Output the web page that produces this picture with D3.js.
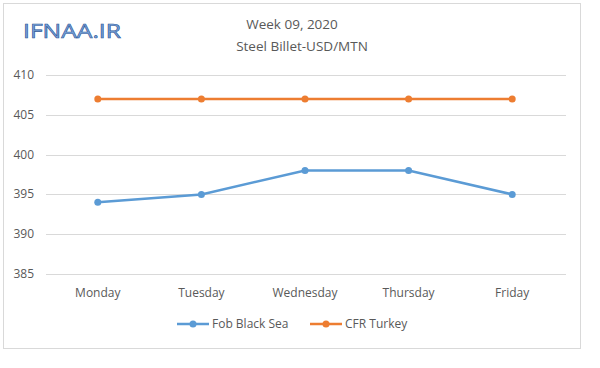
<!DOCTYPE html>
<html><head><meta charset="utf-8">
<script src="https://cdn.jsdelivr.net/npm/d3@7"></script>
<style>body{margin:0;background:#fff}svg text{font-family:"Open Sans","Liberation Sans",sans-serif}</style>
</head><body>
<svg id="c" width="600" height="368"></svg>
<script>
const categories = ["Monday","Tuesday","Wednesday","Thursday","Friday"];
const fobBlackSea = [394,395,398,398,395];
const cfrTurkey = [407,407,407,407,407];
const yTicks = [385,390,395,400,405,410];
const seriesNames = ["Fob Black Sea","CFR Turkey"];
const colors = ["#5b9bd5","#ed7d31"];

const svg = d3.select("#c");
svg.append("rect").attr("x",3.5).attr("y",3.5).attr("width",577).attr("height",345)
  .attr("fill","#fff").attr("stroke","#d9d9d9");

const x = d3.scaleBand().domain(categories).range([46,564]);
const y = d3.scaleLinear().domain([385,410]).range([274,75]);

svg.append("g").selectAll("line").data(yTicks).join("line")
  .attr("x1",46).attr("x2",566).attr("y1",d=>Math.round(y(d))+0.5).attr("y2",d=>Math.round(y(d))+0.5)
  .attr("stroke","#d9d9d9");
svg.append("g").selectAll("text").data(yTicks).join("text")
  .attr("x",34).attr("y",d=>y(d)+4).attr("text-anchor","end").attr("font-size",12).attr("fill","#595959").text(d=>d);
svg.append("g").selectAll("text").data(categories).join("text")
  .attr("x",d=>x(d)+x.bandwidth()/2).attr("y",297).attr("text-anchor","middle").attr("font-size",12).attr("fill","#595959").text(d=>d);

const line = d3.line().x((d,i)=>x(categories[i])+x.bandwidth()/2).y(d=>y(d));
[fobBlackSea,cfrTurkey].forEach((s,k)=>{
  svg.append("path").attr("d",line(s)).attr("fill","none").attr("stroke",colors[k]).attr("stroke-width",2.5);
  svg.append("g").selectAll("circle").data(s).join("circle")
    .attr("cx",(d,i)=>x(categories[i])+x.bandwidth()/2).attr("cy",d=>y(d)).attr("r",3.5).attr("fill",colors[k]);
});

// legend
const lg = [{x:177,name:seriesNames[0]},{x:310,name:seriesNames[1]}];
lg.forEach((l,k)=>{
  svg.append("line").attr("x1",l.x).attr("x2",l.x+32).attr("y1",324).attr("y2",324).attr("stroke",colors[k]).attr("stroke-width",2.5);
  svg.append("circle").attr("cx",l.x+16).attr("cy",324).attr("r",3.5).attr("fill",colors[k]);
  svg.append("text").attr("x",l.x+35).attr("y",328).attr("font-size",12).attr("fill","#595959").text(l.name);
});

svg.append("text").attr("x",292).attr("y",29).attr("text-anchor","middle").attr("font-size",13.5).attr("fill","#595959").text("Week 09, 2020");
svg.append("text").attr("x",302).attr("y",51).attr("text-anchor","middle").attr("font-size",13.5).attr("fill","#595959").text("Steel Billet-USD/MTN");
svg.append("text").attr("x",23).attr("y",38).attr("font-size",20)
  .attr("textLength",98).attr("lengthAdjust","spacingAndGlyphs")
  .attr("fill","#7aa7dc").attr("stroke","#2e5597").attr("stroke-width",0.6).text("IFNAA.IR");
</script>
</body></html>
